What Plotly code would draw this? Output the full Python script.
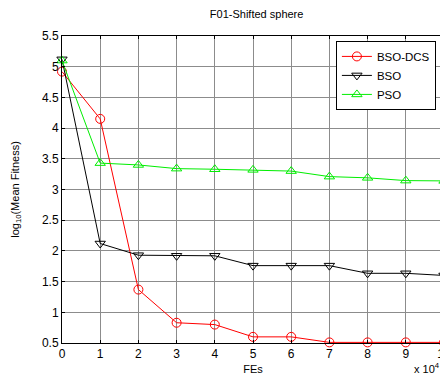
import plotly.graph_objects as go

fes = [0, 1, 2, 3, 4, 5, 6, 7, 8, 9, 10]
bso_dcs = [4.92, 4.15, 1.37, 0.83, 0.80, 0.60, 0.60, 0.51, 0.51, 0.51, 0.51]
bso = [5.12, 2.12, 1.93, 1.92, 1.92, 1.76, 1.76, 1.76, 1.635, 1.635, 1.60]
pso = [5.10, 3.43, 3.40, 3.34, 3.33, 3.32, 3.30, 3.21, 3.19, 3.145, 3.14]
x_ticks = [0, 1, 2, 3, 4, 5, 6, 7, 8, 9, 10]
y_ticks = [0.5, 1, 1.5, 2, 2.5, 3, 3.5, 4, 4.5, 5, 5.5]

FONT = "Liberation Sans, Arial, sans-serif"

fig = go.Figure()
series = [
    ("BSO-DCS", bso_dcs, "#ff0000", "circle-open"),
    ("BSO", bso, "#000000", "triangle-down-open"),
    ("PSO", pso, "#00ee00", "triangle-up-open"),
]
for name, ys, col, sym in series:
    fig.add_trace(go.Scatter(
        x=fes, y=ys, name=name, mode="lines+markers",
        line=dict(color=col, width=1),
        marker=dict(symbol=sym, size=9, color=col, line=dict(color=col, width=1)),
        cliponaxis=False,
    ))

axis_common = dict(
    showline=True, linecolor="black", linewidth=1, mirror="ticks",
    ticks="inside", ticklen=3, tickcolor="black",
    showgrid=True, gridcolor="#8c8c8c", gridwidth=1,
    zeroline=False,
    ticklabeloverflow="allow",
    tickfont=dict(family=FONT, size=12, color="black"),
)

fig.update_layout(
    width=448, height=376,
    margin=dict(l=54, r=5, t=28, b=41),
    paper_bgcolor="white", plot_bgcolor="white",
    title=dict(text="F01-Shifted sphere", x=0.555, xanchor="center", y=0.983, yanchor="middle",
               font=dict(family=FONT, size=11, color="black")),
    xaxis=dict(range=[0, 10], tickvals=x_ticks, ticktext=[str(v) for v in x_ticks],
               title=dict(text="FEs", standoff=4, font=dict(family=FONT, size=11, color="black")),
               **axis_common),
    yaxis=dict(range=[0.5, 5.5], tickvals=y_ticks, ticktext=[f"{v:g}" for v in y_ticks],
               title=dict(text="log<sub>10</sub>(Mean Fitness)", standoff=20,
                          font=dict(family=FONT, size=11, color="black")),
               **axis_common),
    legend=dict(x=0.717, y=0.984, xanchor="left", yanchor="top",
                bordercolor="black", borderwidth=1, bgcolor="white",
                font=dict(family=FONT, size=11.5, color="black"),
                tracegroupgap=0, itemwidth=30),
    showlegend=True,
)

fig.add_annotation(text="x 10<sup>4</sup>", xref="paper", yref="paper",
                   x=0.995, y=-0.11, xanchor="right", yanchor="bottom", showarrow=False,
                   font=dict(family=FONT, size=11, color="black"))

fig.write_html("out.html")
